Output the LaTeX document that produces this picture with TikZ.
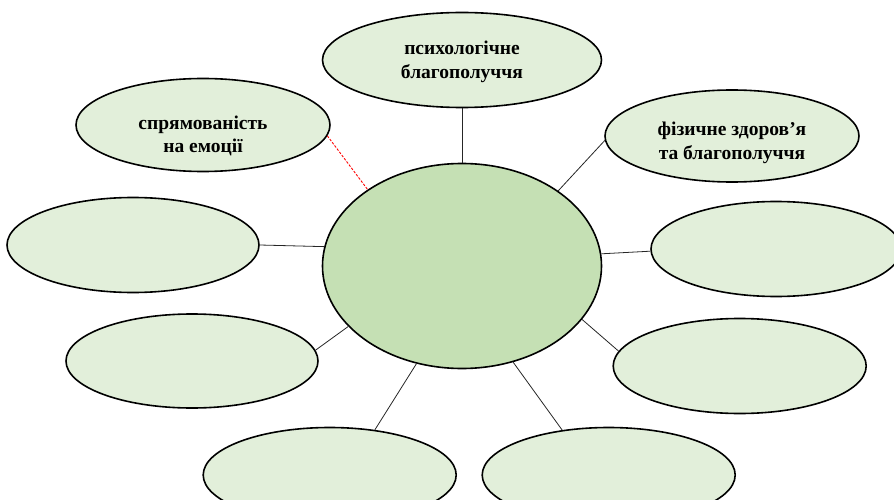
\documentclass[tikz,border=0pt]{standalone}
\usepackage{fontspec}
\setmainfont{Liberation Serif}
\usetikzlibrary{shapes.geometric}
\definecolor{lightgreen}{HTML}{E2EFDA}
\definecolor{midgreen}{HTML}{C5E0B4}
\tikzset{
  outer/.style={ellipse, draw=black, line width=1.6pt, fill=lightgreen, inner sep=0pt,
    minimum width=253pt, minimum height=94pt},
  hub/.style={ellipse, draw=black, line width=1.6pt, fill=midgreen, inner sep=0pt,
    minimum width=279pt, minimum height=205pt},
  caption/.style={align=center, inner sep=0pt,
    font=\fontsize{19.5}{23.5}\selectfont\bfseries},
  link/.style={draw=black!85, line width=0.8pt},
  redlink/.style={draw=red, line width=0.9pt, dash pattern=on 2.5pt off 1.5pt}
}
\begin{document}
\begin{tikzpicture}[x=1pt,y=-1pt]
\useasboundingbox (0,0) rectangle (894,500);
\begin{scope}
\clip (0,0) rectangle (894,500);
\node[hub] (c) at (462,266) {};
\node[outer, minimum width=279pt, minimum height=95pt] (t) at (462,60) {};
\node[outer, minimum width=254pt, minimum height=93pt] (tl) at (203,125) {};
\node[outer, minimum width=254pt, minimum height=92pt] (tr) at (732,136) {};
\node[outer, minimum width=252pt, minimum height=95pt] (lm) at (133,245) {};
\node[outer, minimum width=250pt, minimum height=95pt] (rm) at (776,249) {};
\node[outer, minimum width=252pt, minimum height=94pt] (ll) at (192,361) {};
\node[outer, minimum width=253pt, minimum height=95pt] (rl) at (739.7,366) {};
\node[outer, minimum width=253pt, minimum height=95pt] (bl) at (329.7,475) {};
\node[outer, minimum width=253pt, minimum height=95pt] (br) at (608.7,475) {};
\end{scope}
\node[caption] (ttext) at (462,62) {психологічне\\благополуччя};
\node[caption] (tltext) at (203,136) {спрямованість\\на емоції};
\node[caption] (trtext) at (732,143) {фізичне здоров’я\\та благополуччя};
\draw[link] (t.south) -- (c.90);
\draw[redlink] (tl.-5) -- (c.141.4);
\draw[link] (tr.182) -- (c.38.3);
\draw[link] (lm.east) -- (c.172);
\draw[link] (rm.181) -- (c.5.4);
\draw[link] (ll.5) -- (c.208.1);
\draw[link] (rl.173.3) -- (c.336.2);
\draw[link] (bl.45.4) -- (c.245.4);
\draw[link] (br.136.6) -- (c.298);
\end{tikzpicture}
\end{document}
